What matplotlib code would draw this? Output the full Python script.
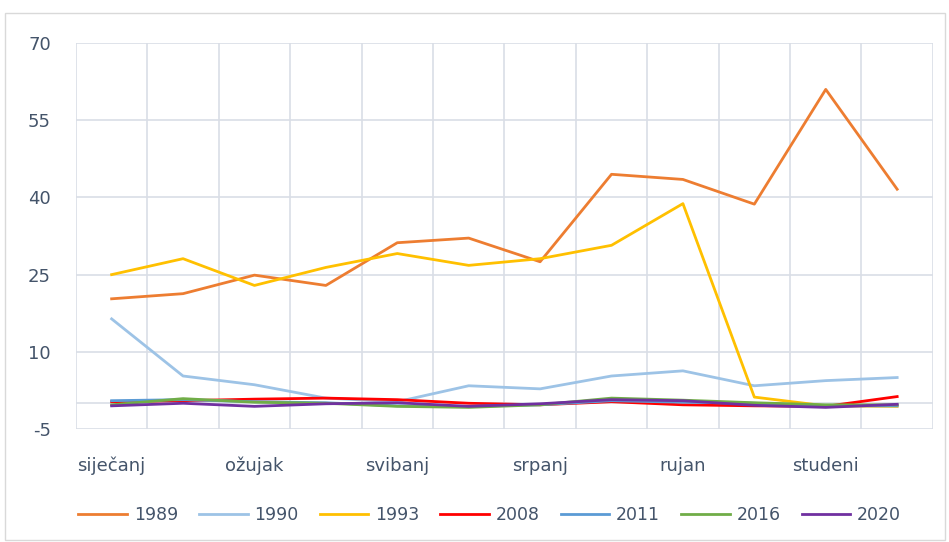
import matplotlib.pyplot as plt
from matplotlib.patches import Rectangle

plt.rcParams['axes.unicode_minus'] = False

months = ['siječanj', 'veljača', 'ožujak', 'travanj', 'svibanj', 'lipanj',
          'srpanj', 'kolovoz', 'rujan', 'listopad', 'studeni', 'prosinac']

y1989 = [20.3, 21.3, 24.9, 22.9, 31.2, 32.1, 27.5, 44.5, 43.5, 38.7, 61.0, 41.6]
y1990 = [16.4, 5.3, 3.6, 1.0, 0.3, 3.4, 2.8, 5.3, 6.3, 3.4, 4.4, 5.0]
y1993 = [25.0, 28.1, 22.9, 26.4, 29.1, 26.8, 28.1, 30.7, 38.8, 1.2, -0.5, -0.6]
y2008 = [0.3, 0.5, 0.8, 1.0, 0.7, 0.0, -0.3, 0.3, -0.3, -0.5, -0.6, 1.3]
y2011 = [0.5, 0.7, 0.3, 0.1, -0.5, -0.6, -0.3, 0.5, 0.2, 0.0, -0.5, -0.5]
y2016 = [-0.3, 0.9, 0.2, 0.0, -0.6, -0.8, -0.3, 1.0, 0.6, 0.1, -0.3, -0.3]
y2020 = [-0.5, 0.0, -0.6, -0.1, 0.1, -0.6, -0.1, 0.7, 0.5, -0.4, -0.8, -0.2]

series = [
    ('1989', y1989, '#ED7D31'),
    ('1990', y1990, '#9DC3E6'),
    ('1993', y1993, '#FFC000'),
    ('2008', y2008, '#FF0000'),
    ('2011', y2011, '#5B9BD5'),
    ('2016', y2016, '#70AD47'),
    ('2020', y2020, '#7030A0'),
]

text_color = '#44546A'
grid_color = '#D9DEE6'

fig = plt.figure(figsize=(9.49, 5.42), dpi=100)
fig.patches.append(Rectangle((5 / 949, 2 / 542), 940 / 949, 527 / 542,
                             transform=fig.transFigure, fill=False,
                             edgecolor='#D9D9D9', linewidth=1))
ax = fig.add_axes([0.080, 0.2085, 0.903, 0.712])

x = list(range(len(months)))
for name, vals, col in series:
    ax.plot(x, vals, color=col, linewidth=2.0, label=name)

ax.set_xlim(-0.5, 11.5)
ax.set_ylim(-5, 70)
ax.set_yticks([-5, 10, 25, 40, 55, 70])
ax.set_xticks(x)
ax.set_xticklabels([m if i % 2 == 0 else '' for i, m in enumerate(months)])
ax.set_xticks([i - 0.5 for i in range(13)], minor=True)

ax.grid(axis='y', color=grid_color, linewidth=1.2)
ax.grid(axis='x', which='minor', color=grid_color, linewidth=1.2)
ax.axhline(0, color=grid_color, linewidth=1.2, zorder=0.5)
ax.set_axisbelow(True)
for s in ax.spines.values():
    s.set_visible(False)
ax.tick_params(which='both', length=0, labelsize=13, colors=text_color)
ax.tick_params(axis='y', pad=18)
ax.tick_params(axis='x', pad=20)

leg = fig.legend(loc='center', bbox_to_anchor=(0.516, 1 - 515 / 542), ncol=7,
                 frameon=False, fontsize=12.5, handlelength=2.8,
                 columnspacing=1.2, handletextpad=0.4)
for t in leg.get_texts():
    t.set_color(text_color)

fig.savefig('out.png', dpi=100)
